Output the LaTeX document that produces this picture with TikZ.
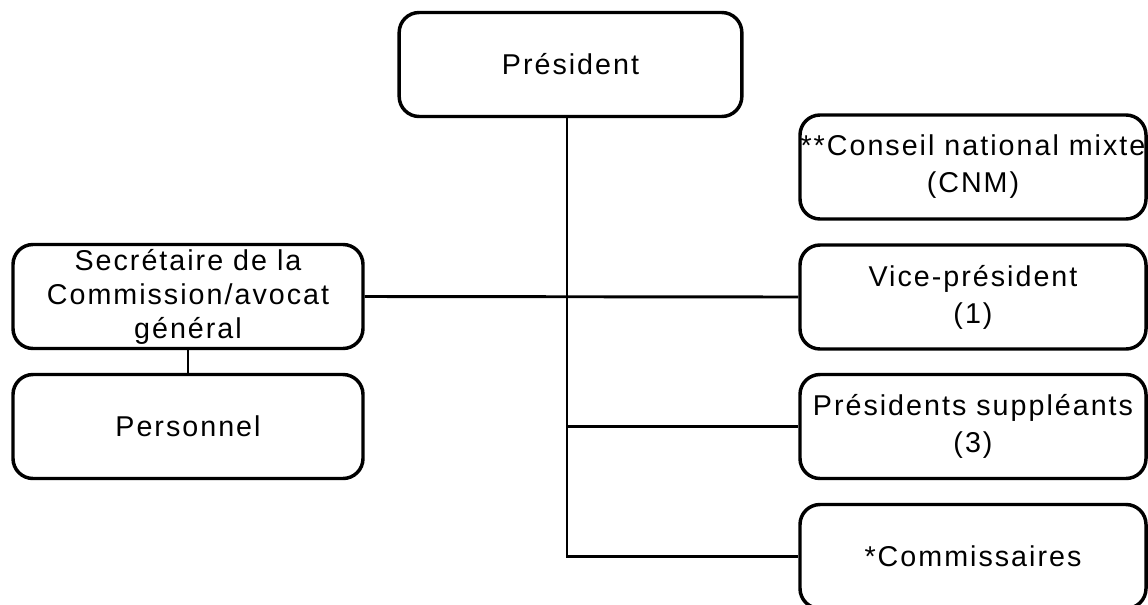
\documentclass[tikz,border=0pt]{standalone}
\usepackage{fontspec}
\setmainfont[LetterSpace=7]{Liberation Sans}
\newcommand{\orgfont}{\fontsize{21.5}{27.75}\selectfont}
\begin{document}
\begin{tikzpicture}[x=0.75pt,y=-0.75pt]
            \tikzstyle{box node}=[draw,line width=2.6pt,rounded corners=15pt,inner sep=0,align=center,font=\orgfont,minimum height=78pt]
            \tikzstyle{wide box}=[box node,minimum width=259.5pt]
            \tikzstyle{link}=[line width=2.2pt]

            \useasboundingbox (0,0) rectangle (1148,604);

            \node(pres)[box node,minimum width=257pt] at (570.5,64.5){Président};
            \node(cnm)[wide box] at (973,167){**Conseil national mixte\\(CNM)};
            \node(vice)[wide box] at (973,297){Vice-président\\(1)};
            \node(suppl)[wide box] at (973,426.5){Présidents suppléants\\(3)};
            \node(comm)[wide box] at (973,556.5){*Commissaires};
            \node(sec)[box node,minimum width=262.5pt,font=\fontsize{21.5}{25.5}\selectfont] at (188,296.5){Secrétaire de la\\Commission/avocat\\général};
            \node(pers)[box node,minimum width=262.5pt] at (188,426.5){Personnel};
            \coordinate(trunk) at (567,0);

            % liaisons
            \draw[link] (pres.south -| trunk) |- (comm.west);
            \draw[link] (sec.east) -- (vice.west);
            \draw[link] (trunk |- suppl.west) -- (suppl.west);
            \draw[link] (sec) -- (pers);
\end{tikzpicture}
\end{document}
